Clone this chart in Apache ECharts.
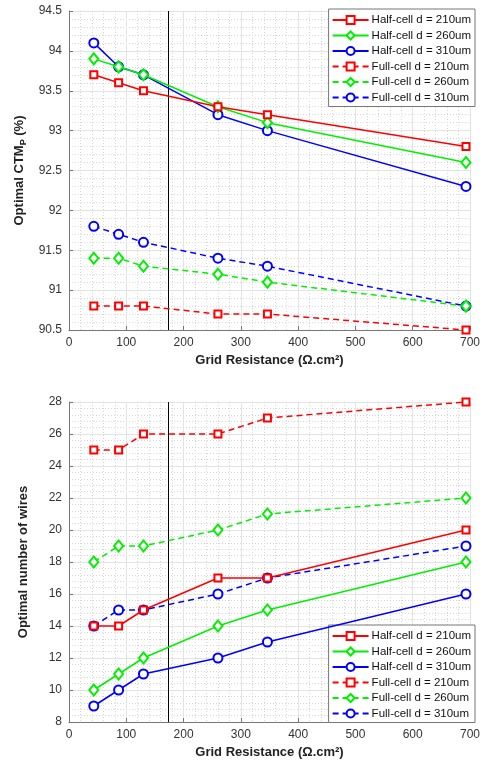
<!DOCTYPE html>
<html lang="en">
<head>
    <meta charset="UTF-8">
    <title>Optimal CTM and wires vs grid resistance</title>
    <style>
        html, body { margin: 0; padding: 0; background: #fff; }
    </style>
</head>
<body>
<div id="chart" style="width: 483px;height:764px;"></div>

<script src="https://cdn.jsdelivr.net/npm/echarts@6/dist/echarts.min.js"></script>
<script>
    // grid resistance (ohm.cm2)
    const gridRes = [43.3, 86.6, 130, 260, 346.4, 693];
    const cutoffR = 173;

    const seriesNames = [
        "Half-cell d = 210um", "Half-cell d = 260um", "Half-cell d = 310um",
        "Full-cell d = 210um", "Full-cell d = 260um", "Full-cell d = 310um"
    ];

    // optimal CTM_P (%)
    const ctmHalf210 = [93.7, 93.6, 93.5, 93.3, 93.2, 92.8];
    const ctmHalf260 = [93.9, 93.8, 93.7, 93.3, 93.1, 92.6];
    const ctmHalf310 = [94.1, 93.8, 93.7, 93.2, 93.0, 92.3];
    const ctmFull210 = [90.8, 90.8, 90.8, 90.7, 90.7, 90.5];
    const ctmFull260 = [91.4, 91.4, 91.3, 91.2, 91.1, 90.8];
    const ctmFull310 = [91.8, 91.7, 91.6, 91.4, 91.3, 90.8];

    // optimal number of wires
    const wiresHalf210 = [14, 14, 15, 17, 17, 20];
    const wiresHalf260 = [10, 11, 12, 14, 15, 18];
    const wiresHalf310 = [9, 10, 11, 12, 13, 16];
    const wiresFull210 = [25, 25, 26, 26, 27, 28];
    const wiresFull260 = [18, 19, 19, 20, 21, 22];
    const wiresFull310 = [14, 15, 15, 16, 17, 19];

    const colors = ['#ff0000', '#00f000', '#0000ff', '#ff0000', '#00f000', '#0000ff'];
    const symbols = ['emptyRect', 'emptyDiamond', 'emptyCircle', 'emptyRect', 'emptyDiamond', 'emptyCircle'];
    const symbolSizes = [7, [9, 11], 9, 7, [9, 11], 9];

    const font = '"Liberation Sans", Arial, sans-serif';

    function makeSeries(idx, values, gridIdx) {
        let s = {
            name: seriesNames[idx],
            type: 'line',
            xAxisIndex: gridIdx,
            yAxisIndex: gridIdx,
            data: values.map((v, i) => [gridRes[i], v]),
            symbol: symbols[idx],
            symbolSize: symbolSizes[idx],
            color: colors[idx],
            lineStyle: { width: 1.5, color: colors[idx], type: idx > 2 ? [6, 4] : 'solid' },
            itemStyle: { borderWidth: 1.5, color: colors[idx] },
            z: 10 - idx
        };
        if (idx === 0) {
            s.markLine = {
                silent: true,
                symbol: 'none',
                label: { show: false },
                lineStyle: { color: '#000', width: 1, type: 'solid' },
                data: [{ xAxis: cutoffR }]
            };
        }
        return s;
    }

    function xAxis(gridIdx) {
        return {
            type: 'value', gridIndex: gridIdx, min: 0, max: 700, interval: 100,
            name: 'Grid Resistance (Ω.cm²)', nameLocation: 'middle', nameGap: 24,
            nameTextStyle: { fontFamily: font, fontSize: 13, fontWeight: 'bold', color: '#222' },
            axisLine: { onZero: false, lineStyle: { color: '#777' } },
            axisTick: { inside: true, length: 4, lineStyle: { color: '#777' } },
            axisLabel: { fontFamily: font, fontSize: 12, color: '#333', margin: 7 },
            splitLine: { show: true, lineStyle: { color: '#e3e3e3' } },
            minorTick: { show: false, splitNumber: 5 },
            minorSplitLine: { show: true, lineStyle: { color: '#d6d6d6', type: [1, 2] } }
        };
    }

    function yAxis(gridIdx, min, max, interval, name) {
        return {
            type: 'value', gridIndex: gridIdx, min: min, max: max, interval: interval,
            name: name, nameLocation: 'middle', nameGap: 39,
            nameTextStyle: {
                fontFamily: font, fontSize: 13, fontWeight: 'bold', color: '#222',
                rich: {
                    a: { fontFamily: font, fontSize: 13, fontWeight: 'bold', color: '#222' },
                    b: { fontFamily: font, fontSize: 9, fontWeight: 'bold', color: '#222', verticalAlign: 'bottom', padding: [8, 0, 0, 0] }
                }
            },
            axisLine: { onZero: false, lineStyle: { color: '#777' } },
            axisTick: { inside: true, length: 4, lineStyle: { color: '#777' } },
            axisLabel: { fontFamily: font, fontSize: 12, color: '#333', margin: 7 },
            splitLine: { show: true, lineStyle: { color: '#e3e3e3' } },
            minorTick: { show: false, splitNumber: 5 },
            minorSplitLine: { show: true, lineStyle: { color: '#d6d6d6', type: [1, 2] } }
        };
    }

    function legend(pos) {
        return Object.assign({
            data: seriesNames,
            orient: 'vertical',
            right: 8,
            itemWidth: 36,
            itemHeight: 10,
            itemGap: 3.5,
            padding: [5, 4, 3, 3],
            backgroundColor: '#fff',
            borderColor: '#777',
            borderWidth: 1,
            borderRadius: 0,
            textStyle: { fontFamily: font, fontSize: 11.5, color: '#111', padding: [0, 0, 0, -2] }
        }, pos);
    }

    let myChart = echarts.init(document.getElementById('chart'));
    let option = {
        animation: false,
        backgroundColor: '#fff',
        grid: [
            { left: 69, top: 11, width: 405, height: 319, show: false },
            { left: 69, top: 402, width: 405, height: 320, show: false }
        ],
        xAxis: [xAxis(0), xAxis(1)],
        yAxis: [
            yAxis(0, 90.5, 94.5, 0.5, '{a|Optimal CTM}{b|P}{a| (%)}'),
            yAxis(1, 8, 28, 2, 'Optimal number of wires')
        ],
        legend: [legend({ top: 9 }), legend({ top: 625 })],
        series: [
            makeSeries(0, ctmHalf210, 0),
            makeSeries(1, ctmHalf260, 0),
            makeSeries(2, ctmHalf310, 0),
            makeSeries(3, ctmFull210, 0),
            makeSeries(4, ctmFull260, 0),
            makeSeries(5, ctmFull310, 0),
            makeSeries(0, wiresHalf210, 1),
            makeSeries(1, wiresHalf260, 1),
            makeSeries(2, wiresHalf310, 1),
            makeSeries(3, wiresFull210, 1),
            makeSeries(4, wiresFull260, 1),
            makeSeries(5, wiresFull310, 1)
        ]
    };
    myChart.setOption(option);
</script>
</body>
</html>
